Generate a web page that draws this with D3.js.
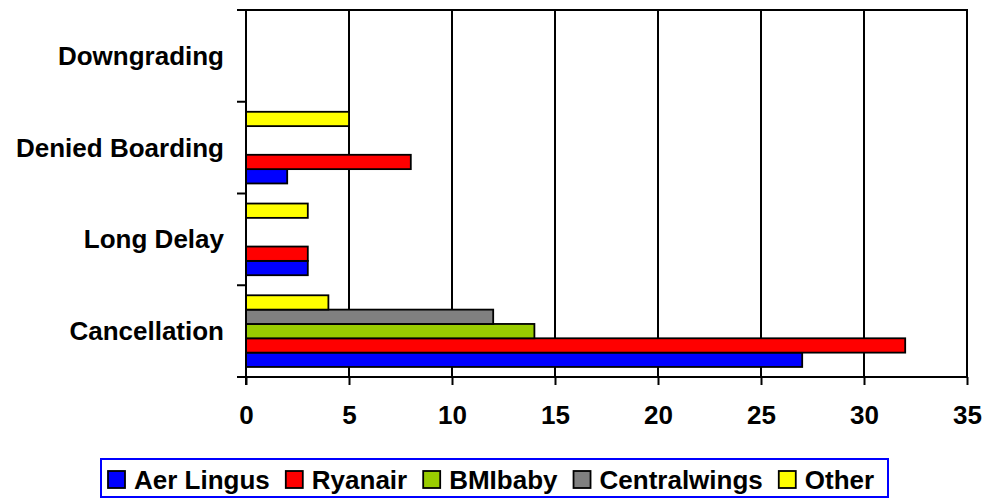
<!DOCTYPE html>
<html>
<head>
<meta charset="utf-8">
<script src="https://cdn.jsdelivr.net/npm/d3@7"></script>
<style>
  html, body { margin: 0; padding: 0; background: #fff; }
  svg { display: block; }
  text { font-family: "Liberation Sans", Arial, sans-serif; font-weight: bold; fill: #000; }
</style>
</head>
<body>
<svg id="chart" width="985" height="499"></svg>
<script>
const categories = ["Cancellation", "Long Delay", "Denied Boarding", "Downgrading"];
const series = ["Aer Lingus", "Ryanair", "BMIbaby", "Centralwings", "Other"];
const aerLingus    = [27, 3, 2, 0];
const ryanair      = [32, 3, 8, 0];
const bmibaby      = [14, 0, 0, 0];
const centralwings = [12, 0, 0, 0];
const other        = [4, 3, 5, 0];
const seriesValues = [aerLingus, ryanair, bmibaby, centralwings, other];
const xTicks = [0, 5, 10, 15, 20, 25, 30, 35];
const colors = ["#0000FF", "#FF0000", "#99CC00", "#808080", "#FFFF00"];

const svg = d3.select("#chart");
const pL = 246, pR = 967, pT = 10, pB = 377;

const x = d3.scaleLinear().domain([0, 35]).range([pL, pR]);
const y0 = d3.scaleBand().domain(categories).range([pB, pT]).paddingInner(0).paddingOuter(0);
const y1 = d3.scaleBand().domain(series).range([y0.bandwidth(), 0]).paddingInner(0).paddingOuter(0.7);

// gridlines
svg.append("g").selectAll("line").data(xTicks.filter(d => d > 0)).join("line")
  .attr("x1", d => x(d)).attr("x2", d => x(d))
  .attr("y1", pT).attr("y2", pB)
  .attr("stroke", "#000").attr("stroke-width", 2);

// top border
svg.append("line").attr("x1", pL - 9).attr("x2", pR + 1).attr("y1", pT).attr("y2", pT)
  .attr("stroke", "#000").attr("stroke-width", 2);

// bars
const rows = [];
categories.forEach((c, ci) => {
  series.forEach((s, si) => {
    const v = seriesValues[si][ci];
    if (v > 0) rows.push({ c, s, v, color: colors[si] });
  });
});
svg.append("g").selectAll("rect").data(rows).join("rect")
  .attr("x", x(0))
  .attr("y", d => y0(d.c) + y1(d.s))
  .attr("width", d => x(d.v) - x(0))
  .attr("height", y1.bandwidth())
  .attr("fill", d => d.color)
  .attr("stroke", "#000").attr("stroke-width", 1.8);

// x axis
const xAxis = svg.append("g").attr("transform", `translate(0,${pB})`)
  .call(d3.axisBottom(x).tickValues(xTicks).tickSize(8).tickPadding(21).tickFormat(d3.format("d")));
xAxis.select(".domain").attr("stroke", "#000").attr("stroke-width", 2).attr("d", `M${pL - 9},0H${pR + 1}`);
xAxis.selectAll(".tick line").attr("stroke", "#000").attr("stroke-width", 2);
xAxis.selectAll(".tick text").attr("font-size", 26)
  .style("font-family", '"Liberation Sans", Arial, sans-serif').style("font-weight", "bold");

// y axis line & ticks at band boundaries
const boundaries = categories.map(c => y0(c)).concat([pB]);
svg.append("line").attr("x1", pL).attr("x2", pL).attr("y1", pT).attr("y2", pB + 8)
  .attr("stroke", "#000").attr("stroke-width", 2);
svg.append("g").selectAll("line").data(boundaries).join("line")
  .attr("x1", pL - 9).attr("x2", pL)
  .attr("y1", d => d).attr("y2", d => d)
  .attr("stroke", "#000").attr("stroke-width", 2);

// category labels
svg.append("g").selectAll("text").data(categories).join("text")
  .attr("x", 224)
  .attr("y", d => y0(d) + y0.bandwidth() / 2 + 9)
  .attr("text-anchor", "end")
  .attr("font-size", 26)
  .text(d => d);

// legend
const lg = svg.append("g");
lg.append("rect")
  .attr("x", 101).attr("y", 459).attr("width", 787).attr("height", 38)
  .attr("fill", "#fff").attr("stroke", "#0000FF").attr("stroke-width", 2);
let lx = 108;
series.forEach((s, i) => {
  lg.append("rect").attr("x", lx).attr("y", 471).attr("width", 17).attr("height", 17)
    .attr("fill", colors[i]).attr("stroke", "#000").attr("stroke-width", 1.8);
  const t = lg.append("text").attr("x", lx + 26).attr("y", 489).attr("font-size", 26).text(s);
  lx += 26 + t.node().getComputedTextLength() + 16;
});
</script>
</body>
</html>
